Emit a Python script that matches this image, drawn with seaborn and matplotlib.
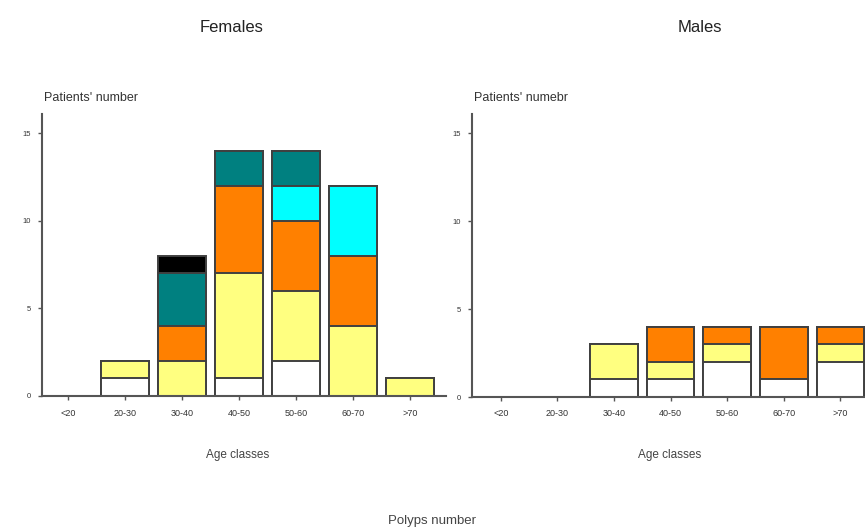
import numpy as np
import pandas as pd
import seaborn as sns
from matplotlib import pyplot as plt

ages = ['<20', '20-30', '30-40', '40-50', '50-60', '60-70', '>70']

# polyp number groups, stacked bottom -> top
groups = ['g1', 'g2', 'g3', 'g4', 'g5', 'g6']
colors = ['#ffffff', '#ffff80', '#ff8000', '#00ffff', '#008080', '#000000']

females_g1 = [0, 1, 0, 1, 2, 0, 0]
females_g2 = [0, 1, 2, 6, 4, 4, 1]
females_g3 = [0, 0, 2, 5, 4, 4, 0]
females_g4 = [0, 0, 0, 0, 2, 4, 0]
females_g5 = [0, 0, 3, 2, 2, 0, 0]
females_g6 = [0, 0, 1, 0, 0, 0, 0]

males_g1 = [0, 0, 1, 1, 2, 1, 2]
males_g2 = [0, 0, 2, 1, 1, 0, 1]
males_g3 = [0, 0, 0, 2, 1, 3, 1]
males_g4 = [0, 0, 0, 0, 0, 0, 0]
males_g5 = [0, 0, 0, 0, 0, 0, 0]
males_g6 = [0, 0, 0, 0, 0, 0, 0]

females = [females_g1, females_g2, females_g3, females_g4, females_g5, females_g6]
males = [males_g1, males_g2, males_g3, males_g4, males_g5, males_g6]

sns.set_theme(style='ticks')
plt.rcParams['font.family'] = ['Liberation Sans', 'DejaVu Sans']

EDGE = '#404040'


def stacked(ax, layers, ylabel):
    cum = np.cumsum(np.array(layers, dtype=float), axis=0)
    # draw totals first, then cover with lower cumulative sums
    for i in range(len(groups) - 1, -1, -1):
        vals = cum[i].copy()
        vals[vals == 0] = np.nan
        df = pd.DataFrame({'age': ages, 'n': vals}).dropna()
        if df.empty:
            continue
        sns.barplot(data=df, x='age', y='n', order=ages, color=colors[i],
                    saturation=1, width=0.84, edgecolor=EDGE, linewidth=1.4,
                    ax=ax)
    ax.set_ylim(0, 16.1)
    ax.set_yticks([0, 5, 10, 15])
    ax.set_xlabel('')
    ax.set_ylabel('')
    sns.despine(ax=ax)
    for s in ['left', 'bottom']:
        ax.spines[s].set_color('#555555')
        ax.spines[s].set_linewidth(1.5)
    ax.tick_params(axis='x', labelsize=6.5, length=3, width=1,
                   color='#555555', labelcolor='#333333', pad=6)
    ax.tick_params(axis='y', labelsize=5.5, length=3, width=1,
                   color='#555555', labelcolor='#333333', pad=5)
    ax.text(0.005, 1.035, ylabel, transform=ax.transAxes, fontsize=9,
            color='#333333', ha='left', va='bottom')
    ax.set_facecolor('white')


fig = plt.figure(figsize=(8.65, 5.29), dpi=100)
axL = fig.add_axes([42 / 865, 133 / 529, 404 / 865, 282 / 529])
axR = fig.add_axes([472 / 865, 132 / 529, 404 / 865, 283 / 529])

stacked(axL, females, "Patients' number")
stacked(axR, males, "Patients' numebr")
axL.set_xlim(-0.46, 6.63)
axR.set_xlim(-0.51, 6.63)

fig.text(232 / 865, 1 - 27 / 529, 'Females', ha='center', va='center',
         fontsize=12, color='#222222')
fig.text(700 / 865, 1 - 27 / 529, 'Males', ha='center', va='center',
         fontsize=12, color='#222222')
fig.text(238 / 865, 1 - 455 / 529, 'Age classes', ha='center', va='center',
         fontsize=8.5, color='#444444')
fig.text(670 / 865, 1 - 455 / 529, 'Age classes', ha='center', va='center',
         fontsize=8.5, color='#444444')
fig.text(432 / 865, 1 - 521 / 529, 'Polyps number', ha='center', va='center',
         fontsize=9.5, color='#444444')

plt.savefig('out.png', dpi=100)
plt.close()
